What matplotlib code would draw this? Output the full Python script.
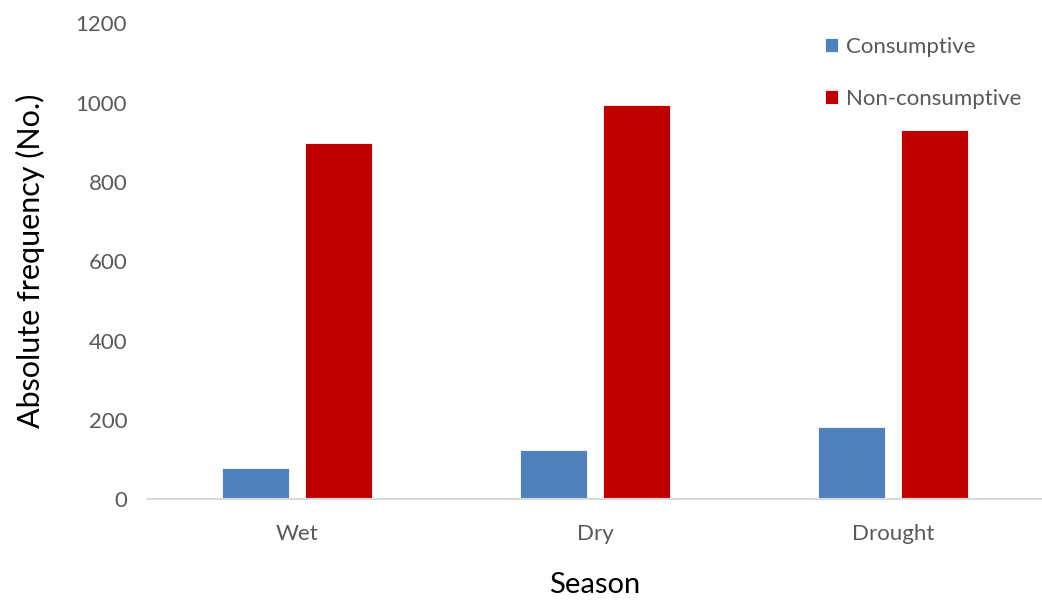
import numpy as np
import matplotlib
matplotlib.use('Agg')
import matplotlib.pyplot as plt

# data
seasons = ['Wet', 'Dry', 'Drought']
consumptive = [79, 124, 182]
non_consumptive = [898, 994, 932]
y_ticks = [0, 200, 400, 600, 800, 1000, 1200]

plt.rcParams['font.family'] = ['Lato', 'DejaVu Sans']

fig = plt.figure(figsize=(10.42, 6.0), dpi=100)
ax = fig.add_axes([0.142, 0.168, 0.858, 0.793])

x = np.arange(len(seasons))
width = 0.224
offset = 0.14

ax.bar(x - offset, consumptive, width, color='#4F81BD', edgecolor='white',
       linewidth=0.6, label='Consumptive')
ax.bar(x + offset, non_consumptive, width, color='#C00000', edgecolor='white',
       linewidth=0.6, label='Non-consumptive')

ax.set_xlim(-0.5, 2.5)
ax.set_ylim(0, 1200)
ax.set_xticks(x)
ax.set_xticklabels(seasons)
ax.set_yticks(y_ticks)

for side in ['top', 'right', 'left']:
    ax.spines[side].set_visible(False)
ax.spines['bottom'].set_color('#d9d9d9')
ax.spines['bottom'].set_linewidth(1.5)

ax.tick_params(axis='both', length=0, labelsize=16, labelcolor='#595959')
ax.tick_params(axis='y', pad=15)
ax.tick_params(axis='x', pad=18)

ax.set_xlabel('Season', fontsize=21, color='black', labelpad=20)
ax.set_ylabel('Absolute frequency (No.)', fontsize=22, color='black', labelpad=22)

leg = ax.legend(loc='upper left', bbox_to_anchor=(0.781, 0.957),
                bbox_transform=fig.transFigure, frameon=False, fontsize=16,
                handlelength=0.6, handleheight=0.6, handletextpad=0.35,
                labelspacing=1.45, borderpad=0)
for t in leg.get_texts():
    t.set_color('#595959')

fig.savefig('out.png', dpi=100)
